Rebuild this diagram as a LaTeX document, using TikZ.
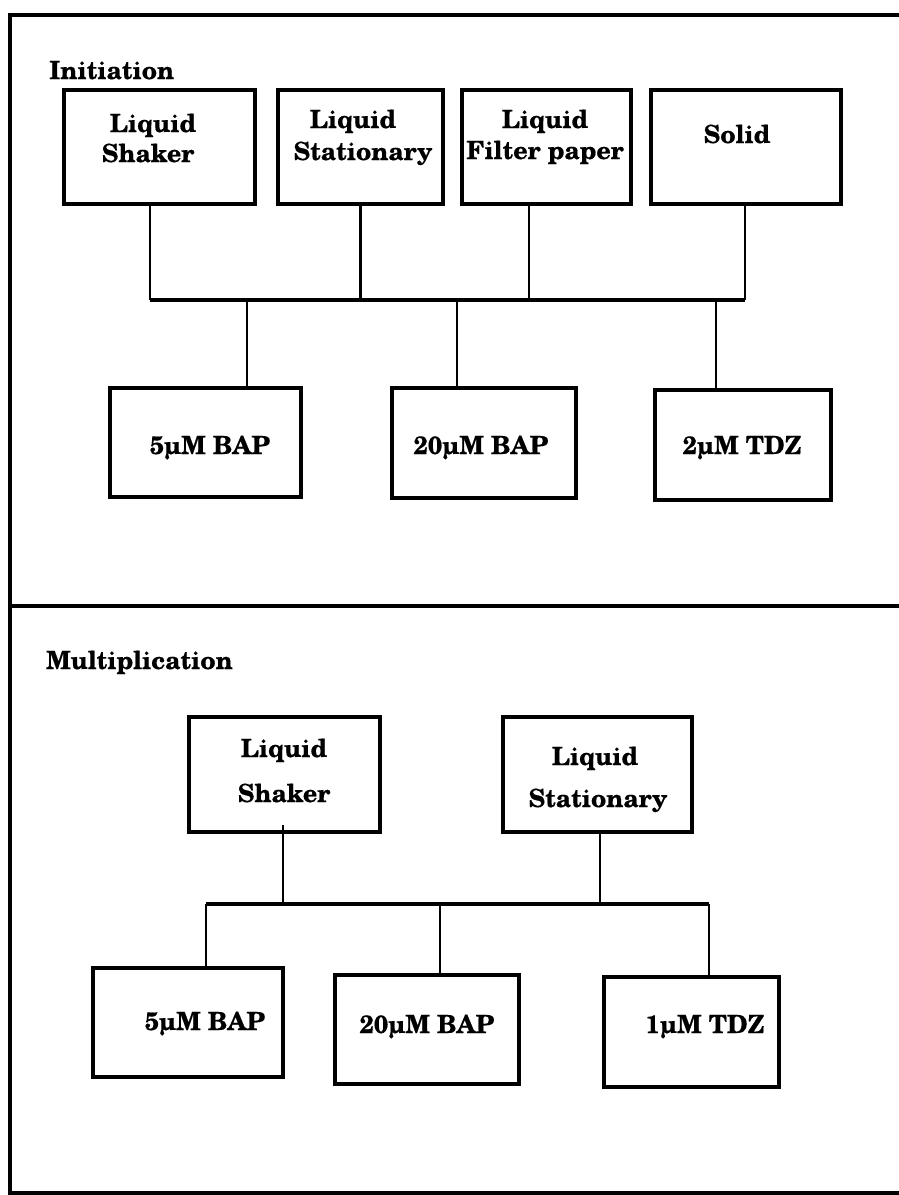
\documentclass[tikz,border=0pt]{standalone}
\usepackage{fontspec}
\setmainfont{texgyreschola}[Extension=.otf, UprightFont=*-regular, BoldFont=*-bold, ItalicFont=*-italic, BoldItalicFont=*-bolditalic, BoldFeatures={FakeBold=0.5}]
\begin{document}
\begin{tikzpicture}[x=1pt,y=-1pt,
  frame/.style={line width=4pt},
  boxA/.style={draw, line width=3.6pt, inner sep=0pt},
  conn/.style={line width=2.8pt},
  bus/.style={line width=3.6pt},
  lbl/.style={font=\fontsize{25}{29}\selectfont\bfseries, inner sep=0pt, anchor=base},
  sec/.style={font=\fontsize{25}{29}\selectfont\bfseries, inner sep=0pt, anchor=base west}]
\useasboundingbox (0,0) rectangle (899,1195);
\fill[white] (0,0) rectangle (899,1195);
% frame
\draw[frame] (905,15) -- (10,15) -- (10,1193) -- (905,1193);
\draw[frame] (10,606) -- (905,606);
% ---------- Initiation ----------
\node[sec] (secI) at (49,79) {Initiation};
\node[boxA, minimum width=191pt, minimum height=114pt] (T1) at (159.5,147) {};
\node[boxA, minimum width=165pt, minimum height=114pt] (T2) at (360.5,147) {};
\node[boxA, minimum width=169pt, minimum height=114pt] (T3) at (546.5,147) {};
\node[boxA, minimum width=190pt, minimum height=114pt] (T4) at (746,147) {};
\node[lbl] (t1a) at (153,132) {Liquid};
\node[lbl] (t1b) at (148,162) {Shaker};
\node[lbl] (t2a) at (353,128) {Liquid};
\node[lbl] (t2b) at (363,160) {Stationary};
\node[lbl] (t3a) at (545,128) {Liquid};
\node[lbl] (t3b) at (545,159) {Filter paper};
\node[lbl] (t4a) at (737,143) {Solid};
\node[boxA, minimum width=191pt, minimum height=109pt] (B1) at (205.5,442.5) {};
\node[boxA, minimum width=184pt, minimum height=110pt] (B2) at (484,443) {};
\node[boxA, minimum width=176pt, minimum height=110pt] (B3) at (743,445) {};
\node[lbl] (b1t) at (210,454) {5µM BAP};
\node[lbl] (b2t) at (481,454) {20µM BAP};
\node[lbl] (b3t) at (742,454) {2µM TDZ};
\coordinate (ja1) at (150,300);
\coordinate (ja4) at (745,300);
\draw[bus] (ja1) -- (ja4);
\draw[conn] ([xshift=-9.5pt]T1.south) -- (ja1);
\draw[conn] (T2.south) -- (T2.south |- ja1);
\draw[conn] ([xshift=-17.5pt]T3.south) -- ([xshift=-17.5pt]T3.south |- ja1);
\draw[conn] ([xshift=-1pt]T4.south) -- (ja4);
\draw[conn] ([xshift=41.5pt]B1.north |- ja1) -- ([xshift=41.5pt]B1.north);
\draw[conn] ([xshift=-27pt]B2.north |- ja1) -- ([xshift=-27pt]B2.north);
\draw[conn] ([xshift=-27pt]B3.north |- ja1) -- ([xshift=-27pt]B3.north);
% ---------- Multiplication ----------
\node[sec] (secM) at (46,669) {Multiplication};
\node[boxA, minimum width=191pt, minimum height=115pt] (ML) at (284.5,774.5) {};
\node[boxA, minimum width=189pt, minimum height=115pt] (MR) at (597.5,774.5) {};
\node[lbl] (mla) at (284,757) {Liquid};
\node[lbl] (mlb) at (284,802) {Shaker};
\node[lbl] (mra) at (595,765) {Liquid};
\node[lbl] (mrb) at (598,807) {Stationary};
\node[boxA, minimum width=190pt, minimum height=109pt] (C1) at (188,1022.5) {};
\node[boxA, minimum width=184pt, minimum height=109pt] (C2) at (427,1029.5) {};
\node[boxA, minimum width=175pt, minimum height=110pt] (C3) at (691.5,1032) {};
\node[lbl] (c1t) at (205,1030) {5µM BAP};
\node[lbl] (c2t) at (427,1033) {20µM BAP};
\node[lbl] (c3t) at (705,1033) {1µM TDZ};
\coordinate (jb1) at (206,904);
\coordinate (jb3) at (709,904);
\draw[bus] (jb1) -- (jb3);
\draw[conn] ([xshift=-1.5pt,yshift=9pt]ML.south) -- ([xshift=-1.5pt]ML.south |- jb1);
\draw[conn] ([xshift=2.5pt]MR.south) -- ([xshift=2.5pt]MR.south |- jb1);
\draw[conn] (jb1) -- ([xshift=18pt]C1.north);
\draw[conn] ([xshift=13pt]C2.north |- jb1) -- ([xshift=13pt]C2.north);
\draw[conn] (jb3) -- ([xshift=17.5pt]C3.north);
\end{tikzpicture}
\end{document}
